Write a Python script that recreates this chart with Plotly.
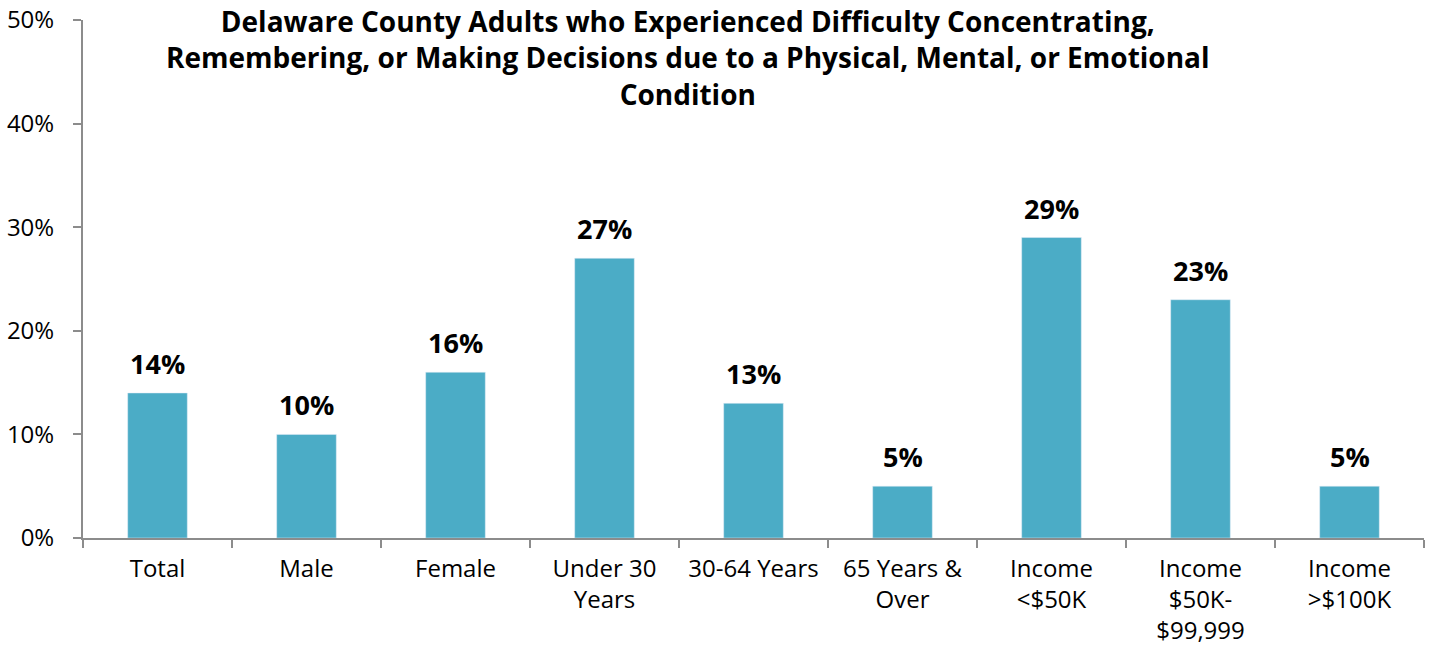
import plotly.graph_objects as go

categories = ["Total", "Male", "Female", "Under 30<br>Years", "30-64 Years",
              "65 Years &<br>Over", "Income<br><$50K", "Income<br>$50K-<br>$99,999",
              "Income<br>>$100K"]
values = [14, 10, 16, 27, 13, 5, 29, 23, 5]
labels = ["14%", "10%", "16%", "27%", "13%", "5%", "29%", "23%", "5%"]
y_ticks = [0, 10, 20, 30, 40, 50]
y_tick_text = ["0%", "10%", "20%", "30%", "40%", "50%"]
title_text = ("Delaware County Adults who Experienced Difficulty Concentrating,<br>"
              "Remembering, or Making Decisions due to a Physical, Mental, or Emotional<br>"
              "Condition")

FONT = "Open Sans"
BAR = "#4BACC6"
AXIS = "#8c8c8c"

fig = go.Figure(go.Bar(x=categories, y=values, marker_color=BAR, width=0.4,
                       hoverinfo="skip"))

for c, v, t in zip(categories, values, labels):
    fig.add_annotation(x=c, y=v, text="<b>%s</b>" % t, showarrow=False,
                       yanchor="bottom", yshift=9,
                       font=dict(family=FONT, size=27, color="black"))

fig.add_annotation(xref="paper", yref="paper", x=0.451, y=1.039, yanchor="top",
                   text="<b>%s</b>" % title_text, showarrow=False,
                   font=dict(family=FONT, size=28, color="black"), align="center")

fig.update_layout(
    width=1432, height=649,
    margin=dict(l=83, r=8, t=20, b=111),
    plot_bgcolor="white", paper_bgcolor="white",
    showlegend=False,
    font=dict(family=FONT, size=24, color="black"),
    bargap=0.6,
)
fig.update_xaxes(showline=True, linecolor=AXIS, linewidth=2, ticks="outside",
                 tickson="boundaries", ticklen=8, tickcolor=AXIS, tickwidth=2,
                 showgrid=False, automargin=False, ticklabelstandoff=8,
                 tickfont=dict(family=FONT, size=24))
fig.update_yaxes(range=[0, 50], tickvals=y_ticks, ticktext=y_tick_text,
                 showline=True, linecolor=AXIS, linewidth=2, ticks="outside",
                 ticklen=8, tickcolor=AXIS, tickwidth=2, showgrid=False,
                 zeroline=False, automargin=False, ticklabelstandoff=14,
                 tickfont=dict(family=FONT, size=24))

fig.write_html("out.html", config={"displayModeBar": False},
               post_script="document.body.style.margin='0';document.body.style.overflow='hidden';")
